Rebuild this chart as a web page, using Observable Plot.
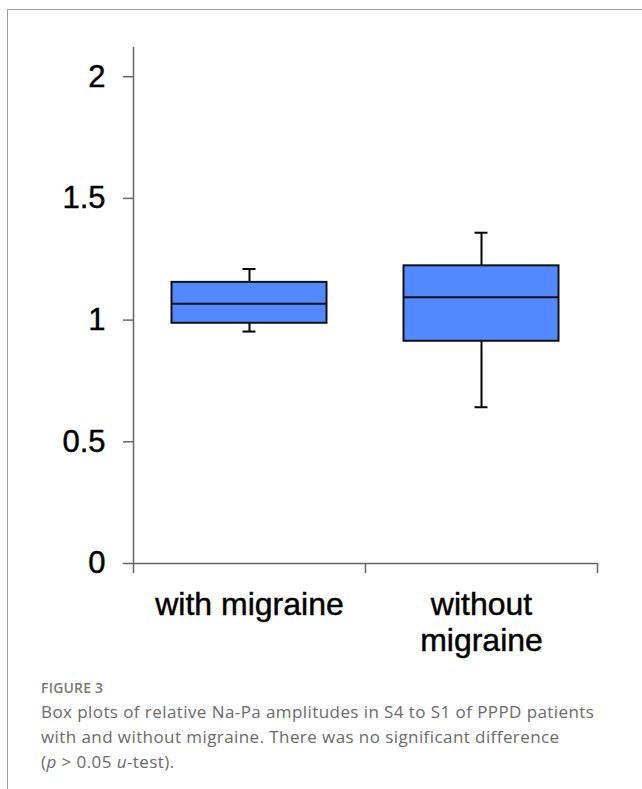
<!DOCTYPE html>
<html>
<head>
<meta charset="utf-8">
<script src="https://cdn.jsdelivr.net/npm/d3@7"></script>
<script src="https://cdn.jsdelivr.net/npm/@observablehq/plot@0.6"></script>
<style>
  html, body { margin: 0; padding: 0; background: #fff; }
  #page { position: relative; width: 642px; height: 789px; overflow: hidden; }
  #rule { position: absolute; left: 7px; top: 9px; right: 0; bottom: 0;
          border-top: 1.5px solid #9c9c9c; border-left: 1.5px solid #9c9c9c; }
  #chart { position: absolute; left: 0; top: 0; }
  #chart g[aria-label$="tick label"] text { stroke: black; stroke-width: 0.45px; }
  #figlabel { position: absolute; left: 41px; top: 678px; font: 600 14px/20px "Open Sans", sans-serif;
              color: #777; letter-spacing: 0.2px; }
  #caption { position: absolute; left: 41px; top: 699px;
             font: 400 17px/25px "Open Sans", sans-serif; color: #6a6a6a; letter-spacing: 0.42px; }
  #caption div { white-space: nowrap; }
</style>
</head>
<body>
<div id="page">
  <div id="rule"></div>
  <div id="chart"></div>
  <div id="figlabel">FIGURE 3</div>
  <div id="caption">
    <div>Box plots of relative Na-Pa amplitudes in S4 to S1 of PPPD patients</div>
    <div>with and without migraine. There was no significant difference</div>
    <div>(<i>p</i> &gt; 0.05 <i>u</i>-test).</div>
  </div>
</div>
<script>
// Groups and their box-plot statistics (relative Na-Pa amplitude, S4 to S1)
const groups = ["with migraine", "without migraine"];
const groupLabels = ["with migraine", "without\nmigraine"];
const whiskerLow = [0.953, 0.642];
const q1 = [0.987, 0.913];
const median = [1.067, 1.094];
const q3 = [1.155, 1.223];
const whiskerHigh = [1.210, 1.359];
const yTicks = [0, 0.5, 1, 1.5, 2];
const yMax = 2.12;

const boxes = groups.map((group, i) => ({
  group, low: whiskerLow[i], q1: q1[i], median: median[i], q3: q3[i], high: whiskerHigh[i]
}));

const width = 642, height = 665;
const marginLeft = 133, marginRight = 45, marginTop = 47, marginBottom = 102;
const bandwidth = (width - marginLeft - marginRight) / groups.length;
const boxInset = 38.5, capInset = 109.5;
const axisColor = "#666";

const chart = Plot.plot({
  width, height, marginLeft, marginRight, marginTop, marginBottom,
  style: { fontFamily: "'Liberation Sans', Arial, sans-serif", background: "transparent", color: "black" },
  x: { type: "band", domain: groups, padding: 0 },
  y: { domain: [0, yMax] },
  marks: [
    // y axis line and baseline
    Plot.frame({ anchor: "left", stroke: axisColor, strokeWidth: 1.5 }),
    Plot.ruleY([0], { stroke: axisColor, strokeWidth: 1.5 }),
    Plot.axisY({
      ticks: yTicks, tickFormat: d => String(d), tickSize: 10, tickPadding: 18,
      fontSize: 31, stroke: axisColor, strokeWidth: 1.5, fill: "black", label: null
    }),
    // category separators below the baseline
    Plot.ruleX(groups, { x: d => d, dx: -bandwidth / 2, y1: 0, y2: 0, insetBottom: -10, stroke: axisColor, strokeWidth: 1.5 }),
    Plot.ruleX(groups.slice(-1), { x: d => d, dx: bandwidth / 2, y1: 0, y2: 0, insetBottom: -10, stroke: axisColor, strokeWidth: 1.5 }),
    Plot.axisX({
      tickSize: 0, tickPadding: 25, fontSize: 32, lineHeight: 1.15, fill: "black", label: null,
      tickFormat: (d) => groupLabels[groups.indexOf(d)]
    }),
    // whiskers and caps
    Plot.ruleX(boxes, { x: "group", y1: "q3", y2: "high", stroke: "black", strokeWidth: 2 }),
    Plot.ruleX(boxes, { x: "group", y1: "low", y2: "q1", stroke: "black", strokeWidth: 2 }),
    Plot.tickY(boxes, { x: "group", y: "high", insetLeft: capInset, insetRight: capInset, stroke: "black", strokeWidth: 2 }),
    Plot.tickY(boxes, { x: "group", y: "low", insetLeft: capInset, insetRight: capInset, stroke: "black", strokeWidth: 2 }),
    // boxes and medians
    Plot.barY(boxes, { x: "group", y1: "q1", y2: "q3", insetLeft: boxInset, insetRight: boxInset,
                       fill: "#5289fe", stroke: "#111", strokeWidth: 2 }),
    Plot.tickY(boxes, { x: "group", y: "median", insetLeft: boxInset, insetRight: boxInset, stroke: "#111", strokeWidth: 2 })
  ]
});
document.getElementById("chart").appendChild(chart);
</script>
</body>
</html>
